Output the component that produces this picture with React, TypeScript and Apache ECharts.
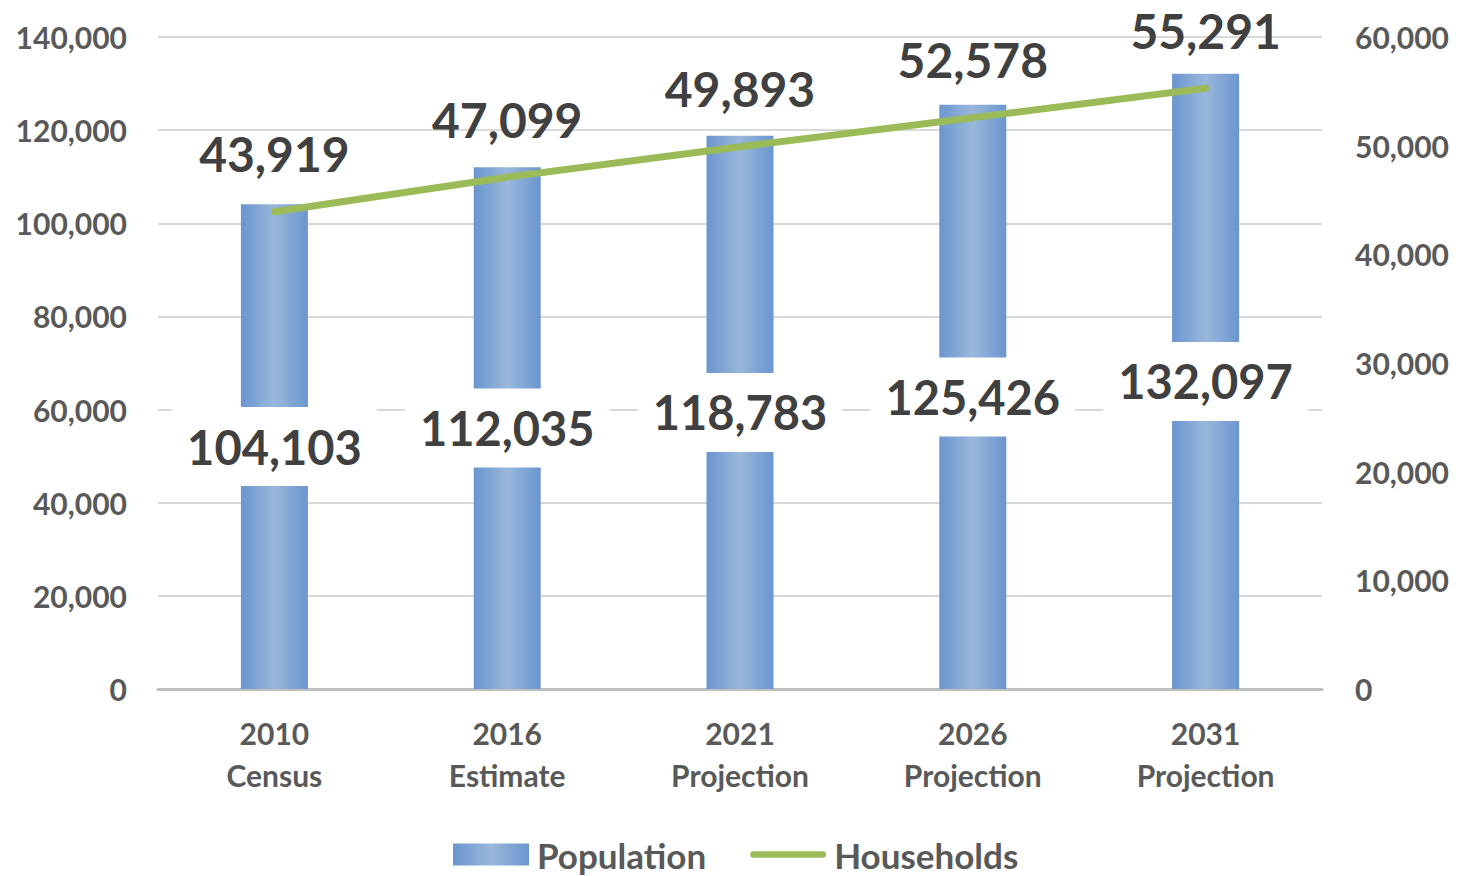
import React, { useEffect, useRef } from "react";
import * as echarts from "echarts";

const categories = ["2010\nCensus", "2016\nEstimate", "2021\nProjection", "2026\nProjection", "2031\nProjection"];
const population = [104103, 112035, 118783, 125426, 132097];
const households = [43919, 47099, 49893, 52578, 55291];

const FONT = "Lato";
const fmt = (v: number) => v.toLocaleString("en-US");

export default function App() {
  const ref = useRef<HTMLDivElement>(null);
  useEffect(() => {
    const chart = echarts.init(ref.current!, null, { renderer: "svg" });
    chart.setOption({
      animation: false,
      backgroundColor: "#ffffff",
      textStyle: { fontFamily: FONT },
      grid: { left: 158, right: 139, top: 37, bottom: 187, containLabel: false },
      legend: {
        left: 448,
        top: 832,
        itemWidth: 76,
        itemHeight: 22,
        itemGap: 44,
        textStyle: { fontFamily: FONT, fontWeight: "bold", fontSize: 35, lineHeight: 35, color: "#595959", padding: [0, 0, 0, 3] },
        data: [
          { name: "Population", icon: "rect" },
          {
            name: "Households",
            icon: "path://M3.5,0 L76.5,0 A3.5,3.5 0 0 1 76.5,7 L3.5,7 A3.5,3.5 0 0 1 3.5,0 Z",
            itemStyle: { color: "#9bbb59", opacity: 1 },
          },
        ],
      },
      xAxis: {
        type: "category",
        data: categories,
        axisLine: { show: true, lineStyle: { color: "#bfbfbf", width: 3 } },
        axisTick: { show: false },
        axisLabel: {
          margin: 23,
          fontFamily: FONT,
          fontWeight: "bold",
          fontSize: 30,
          lineHeight: 42,
          color: "#595959",
        },
      },
      yAxis: [
        {
          type: "value",
          min: 0,
          max: 140000,
          interval: 20000,
          axisLine: { show: false },
          axisTick: { show: false },
          splitLine: { lineStyle: { color: "#d9d9d9", width: 2 } },
          axisLabel: {
            margin: 31,
            fontFamily: FONT,
            fontWeight: "bold",
            fontSize: 30,
            color: "#595959",
            formatter: (v: number) => fmt(v),
          },
        },
        {
          type: "value",
          min: 0,
          max: 60000,
          interval: 10000,
          position: "right",
          axisLine: { show: false },
          axisTick: { show: false },
          splitLine: { show: false },
          axisLabel: {
            margin: 33,
            fontFamily: FONT,
            fontWeight: "bold",
            fontSize: 30,
            color: "#595959",
            formatter: (v: number) => fmt(v),
          },
        },
      ],
      series: [
        {
          name: "Population",
          type: "bar",
          yAxisIndex: 0,
          data: population,
          barWidth: 67,
          itemStyle: {
            color: new echarts.graphic.LinearGradient(0, 0, 1, 0, [
              { offset: 0, color: "#6a96cf" },
              { offset: 0.5, color: "#9ab7db" },
              { offset: 1, color: "#6a96cf" },
            ]),
          },
          label: {
            show: true,
            position: "inside",
            formatter: (p: any) => fmt(p.value),
            fontFamily: FONT,
            fontWeight: "bold",
            fontSize: 47,
            lineHeight: 47,
            color: "#404040",
            backgroundColor: "#ffffff",
            padding: [16, 15],
          },
          z: 2,
        },
        {
          name: "Households",
          type: "line",
          yAxisIndex: 1,
          data: households,
          symbol: "circle",
          symbolSize: 2,
          showSymbol: true,
          lineStyle: { color: "#9bbb59", width: 7, cap: "round" },
          itemStyle: { color: "#9bbb59" },
          label: {
            show: true,
            position: "top",
            distance: 33,
            formatter: (p: any) => fmt(p.value),
            fontFamily: FONT,
            fontWeight: "bold",
            fontSize: 48,
            lineHeight: 48,
            color: "#404040",
          },
          z: 3,
        },
      ],
    });
    return () => chart.dispose();
  }, []);
  return (
    <div
      ref={ref}
      style={{ position: "fixed", left: 0, top: 0, width: 1461, height: 876 }}
    />
  );
}
